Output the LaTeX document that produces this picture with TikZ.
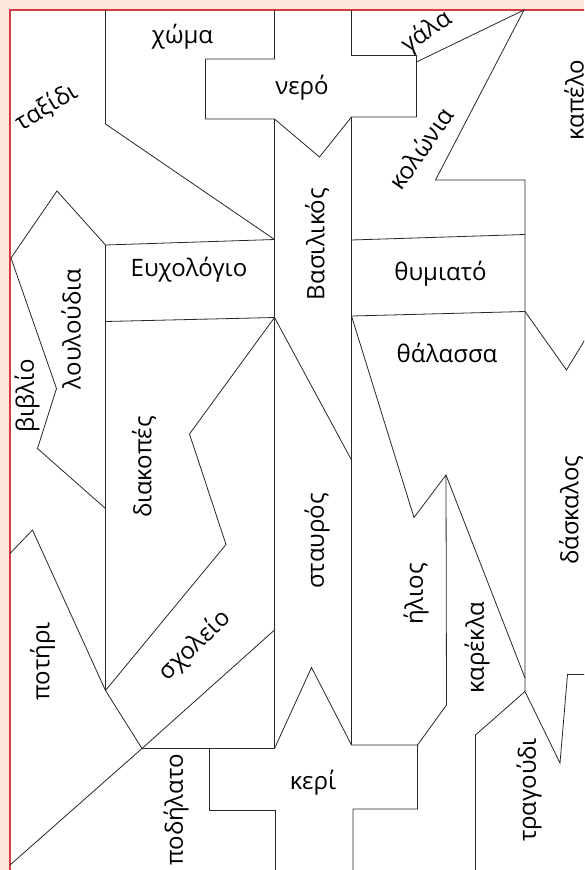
\documentclass[tikz,border=0pt]{standalone}
\usepackage{fontspec}
\setmainfont{Open Sans}
\definecolor{peach}{RGB}{252,229,218}
\definecolor{frame}{RGB}{214,58,68}
\definecolor{ink}{RGB}{40,40,40}
\tikzset{
  wd/.style={font=\fontsize{24}{28}\selectfont, inner sep=0pt, text=black},
  up/.style={wd, rotate=90},
  cut/.style={draw=ink, line width=0.8pt, line join=miter},
}

\begin{document}
\begin{tikzpicture}[x=1pt, y=-1pt]
\useasboundingbox (0,0) rectangle (584,870);
\clip (0,0) rectangle (584,870);
\fill[peach] (0,0) rectangle (584,870);
\fill[white] (10,10) rectangle (590,880);
\draw[frame, line width=1.2pt] (10,880) -- (10,10) -- (590,10);
% top pieces
\draw[cut] (105.5,10) -- (105.5,124) -- (274.5,239.5);
\draw[cut] (274.5,10) -- (274.5,59) -- (205.5,59) -- (205.5,119) -- (274.5,119) -- (319.5,157) -- (351.5,117) -- (416.5,117) -- (416.5,55.5) -- (351.5,55.5) -- (351.5,10);
\draw[cut] (416.5,62) -- (524,10) -- (435.5,180) -- (525,180) -- (525,691.5);
\draw[cut] (274.5,119) -- (274.5,748.5);
\draw[cut] (351.5,117) -- (351.5,745);
\draw[cut] (351.5,240) -- (525,234.5);
\draw[cut] (351.5,316) -- (525,311.5) -- (566.5,370) -- (600,315);
% left column
\draw[cut] (274.5,239.5) -- (105.5,245) -- (57,191) -- (11,258) -- (56.5,388.5) -- (37.5,448.5) -- (105.5,508.5);
\draw[cut] (105.5,245) -- (105.5,690.5);
\draw[cut] (105.5,321.5) -- (274.5,317.5);
\draw[cut] (274.5,317.5) -- (189.5,434) -- (226,544.5) -- (105.5,690.5);
\draw[cut] (274.5,317.5) -- (351.5,460);
\draw[cut] (10,553.5) -- (32.5,530) -- (105.5,690.5) -- (142,748.5) -- (10,865);
\draw[cut] (142,748.5) -- (274.5,630);
% bottom pieces
\draw[cut] (142,748.5) -- (274.5,748.5) -- (311.5,667.5) -- (351.5,745) -- (417.5,745) -- (417.5,809) -- (353,809) -- (353,875);
\draw[cut] (209.5,748.5) -- (209.5,810) -- (275.5,810) -- (275.5,875);
\draw[cut] (351.5,316) -- (414,517.5) -- (446,475) -- (446.5,705) -- (417.5,745);
\draw[cut] (446,475) -- (525,678);
\draw[cut] (525,691.5) -- (475.5,735) -- (475.5,875);
\draw[cut] (525,691.5) -- (560,763) -- (567.5,674.5) -- (590,674.5);
% words
\node[wd] (xoma) at (182.5,37) {χώμα};
\node[wd, rotate=31] (taxidi) at (46.5,107.5) {ταξίδι};
\node[wd] (nero) at (302,88) {νερό};
\node[wd, rotate=35] (gala) at (427,32) {γάλα};
\node[wd, rotate=55] (kolonia) at (420.5,148) {κολώνια};
\node[up] (kapelo) at (574,100) {καπέλο};
\node[up] (vasilikos) at (317,244) {Βασιλικός};
\node[wd] (efchologio) at (189,269.5) {Ευχολόγιο};
\node[wd] (thymiato) at (440.5,274) {θυμιατό};
\node[up] (louloudia) at (71,329) {λουλούδια};
\node[up] (vivlio) at (27,396) {βιβλίο};
\node[wd] (thalassa) at (447,353) {θάλασσα};
\node[up] (diakopes) at (144,467) {διακοπές};
\node[up] (stavros) at (317,541) {σταυρός};
\node[up] (daskalos) at (571,510) {δάσκαλος};
\node[up] (ilios) at (416,594) {ήλιος};
\node[up] (karekla) at (477,647.5) {καρέκλα};
\node[wd, rotate=44] (scholeio) at (195,645.5) {σχολείο};
\node[up] (potiri) at (42.5,661.5) {ποτήρι};
\node[wd] (keri) at (313,783) {κερί};
\node[up] (podilato) at (176,810) {ποδήλατο};
\node[up] (tragoudi) at (529,790) {τραγούδι};
\end{tikzpicture}
\end{document}
